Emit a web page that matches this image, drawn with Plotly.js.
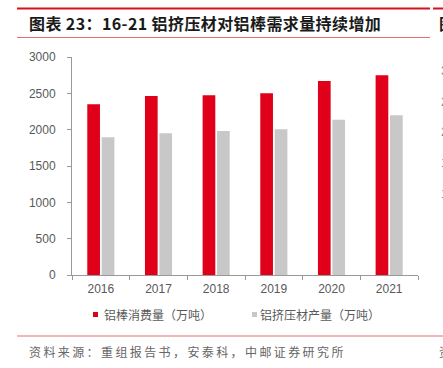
<!DOCTYPE html>
<html>
<head>
<meta charset="utf-8">
<script src="https://cdn.plot.ly/plotly-3.0.1.min.js"></script>
<style>html,body{margin:0;padding:0;background:#fff;}#chart{width:443px;height:368px;}</style>
</head>
<body>
<div id="chart"></div>
<script>
// ---- data ----
var years = ['2016', '2017', '2018', '2019', '2020', '2021'];
var rodConsumption = [2350, 2465, 2475, 2500, 2670, 2750];      // 铝棒消费量（万吨）
var extrusionOutput = [1895, 1950, 1980, 2005, 2135, 2200];     // 铝挤压材产量（万吨）
var yTicks = [0, 500, 1000, 1500, 2000, 2500, 3000];
var seriesNames = ['铝棒消费量（万吨）', '铝挤压材产量（万吨）'];
var titleText = '图表 23：16-21 铝挤压材对铝棒需求量持续增加';
var sourceText = '资料来源：重组报告书，安泰科，中邮证券研究所';

// ---- layout helpers (pixel -> paper) ----
var W = 443, H = 368;
var M = {l: 72, r: 25, t: 57, b: 93};
var PW = W - M.l - M.r, PH = H - M.t - M.b;
function px(x) { return (x - M.l) / PW; }
function py(y) { return (H - M.b - y) / PH; }

var RED = '#E00019', GRAY = '#C8C8C8';
var cjk = '"Noto Sans CJK SC", "Noto Sans", sans-serif';

var traces = [
  {type: 'bar', x: years, y: rodConsumption, name: seriesNames[0],
   marker: {color: RED}, showlegend: false, hoverinfo: 'skip'},
  {type: 'bar', x: years, y: extrusionOutput, name: seriesNames[1],
   marker: {color: GRAY}, showlegend: false, hoverinfo: 'skip'}
];

function line(x0, y0, x1, y1, color, w) {
  return {type: 'line', xref: 'paper', yref: 'paper', x0: px(x0), x1: px(x1), y0: py(y0), y1: py(y1),
          line: {color: color, width: w}};
}
function rect(x0, y0, x1, y1, color) {
  return {type: 'rect', xref: 'paper', yref: 'paper', x0: px(x0), x1: px(x1), y0: py(y0), y1: py(y1),
          fillcolor: color, line: {width: 0}};
}
function ann(text, x, y, font, anchor) {
  return {text: text, xref: 'paper', yref: 'paper', x: px(x), y: py(y), xanchor: anchor || 'left',
          yanchor: 'middle', showarrow: false, font: font};
}

var layout = {
  width: W, height: H,
  margin: M,
  paper_bgcolor: '#fff', plot_bgcolor: '#fff',
  barmode: 'group', bargap: 0.5, bargroupgap: 0.12,
  showlegend: false,
  xaxis: {
    type: 'category', tickson: 'boundaries', ticks: 'outside', ticklen: 4, tickcolor: '#999',
    showline: true, linecolor: '#999', linewidth: 1, showgrid: false, zeroline: false,
    tickfont: {family: '"Liberation Sans", Arial, sans-serif', size: 12, color: '#595959'},
    ticklabelstandoff: 3, fixedrange: true
  },
  yaxis: {
    range: [0, 3000], tickvals: yTicks, ticktext: yTicks.map(String),
    ticks: 'outside', ticklen: 4, tickcolor: '#999',
    showline: true, linecolor: '#999', linewidth: 1, showgrid: false, zeroline: false,
    tickfont: {family: '"Liberation Sans", Arial, sans-serif', size: 12, color: '#595959'},
    ticklabelstandoff: 9, fixedrange: true
  },
  shapes: [
    line(17, 8.5, 430, 8.5, '#D7111C', 2),
    line(433, 8.5, 450, 8.5, '#D7111C', 2),
    line(17, 37.5, 430, 37.5, '#E07070', 1),
    line(17, 336, 450, 336, '#E07070', 1),
    rect(93, 312, 98, 317, RED),
    rect(252, 312, 257, 317, GRAY)
  ],
  annotations: [
    ann('<span style="letter-spacing:0.4px"><b>' + titleText + '</b></span>', 27, 23.5, {family: cjk, size: 16, color: '#1a1a1a'}),
    ann('<b>图</b>', 437, 23.5, {family: cjk, size: 16, color: '#1a1a1a'}),
    ann(seriesNames[0], 102, 314, {family: cjk, size: 12, color: '#595959'}),
    ann(seriesNames[1], 258, 314, {family: cjk, size: 12, color: '#595959'}),
    ann('<span style="letter-spacing:2.4px">' + sourceText + '</span>', 27, 351,
        {family: cjk, size: 12, color: '#666'}),
    ann('资', 437, 351, {family: cjk, size: 12, color: '#666'}),
    ann('30', 439, 71, {family: '"Liberation Sans", Arial, sans-serif', size: 12, color: '#888'}),
    ann('25', 439, 102, {family: '"Liberation Sans", Arial, sans-serif', size: 12, color: '#888'}),
    ann('20', 439, 132, {family: '"Liberation Sans", Arial, sans-serif', size: 12, color: '#888'}),
    ann('15', 439, 163, {family: '"Liberation Sans", Arial, sans-serif', size: 12, color: '#888'}),
    ann('10', 439, 194, {family: '"Liberation Sans", Arial, sans-serif', size: 12, color: '#888'})
  ]
};

Plotly.newPlot('chart', traces, layout, {staticPlot: true, displayModeBar: false});
</script>
</body>
</html>
